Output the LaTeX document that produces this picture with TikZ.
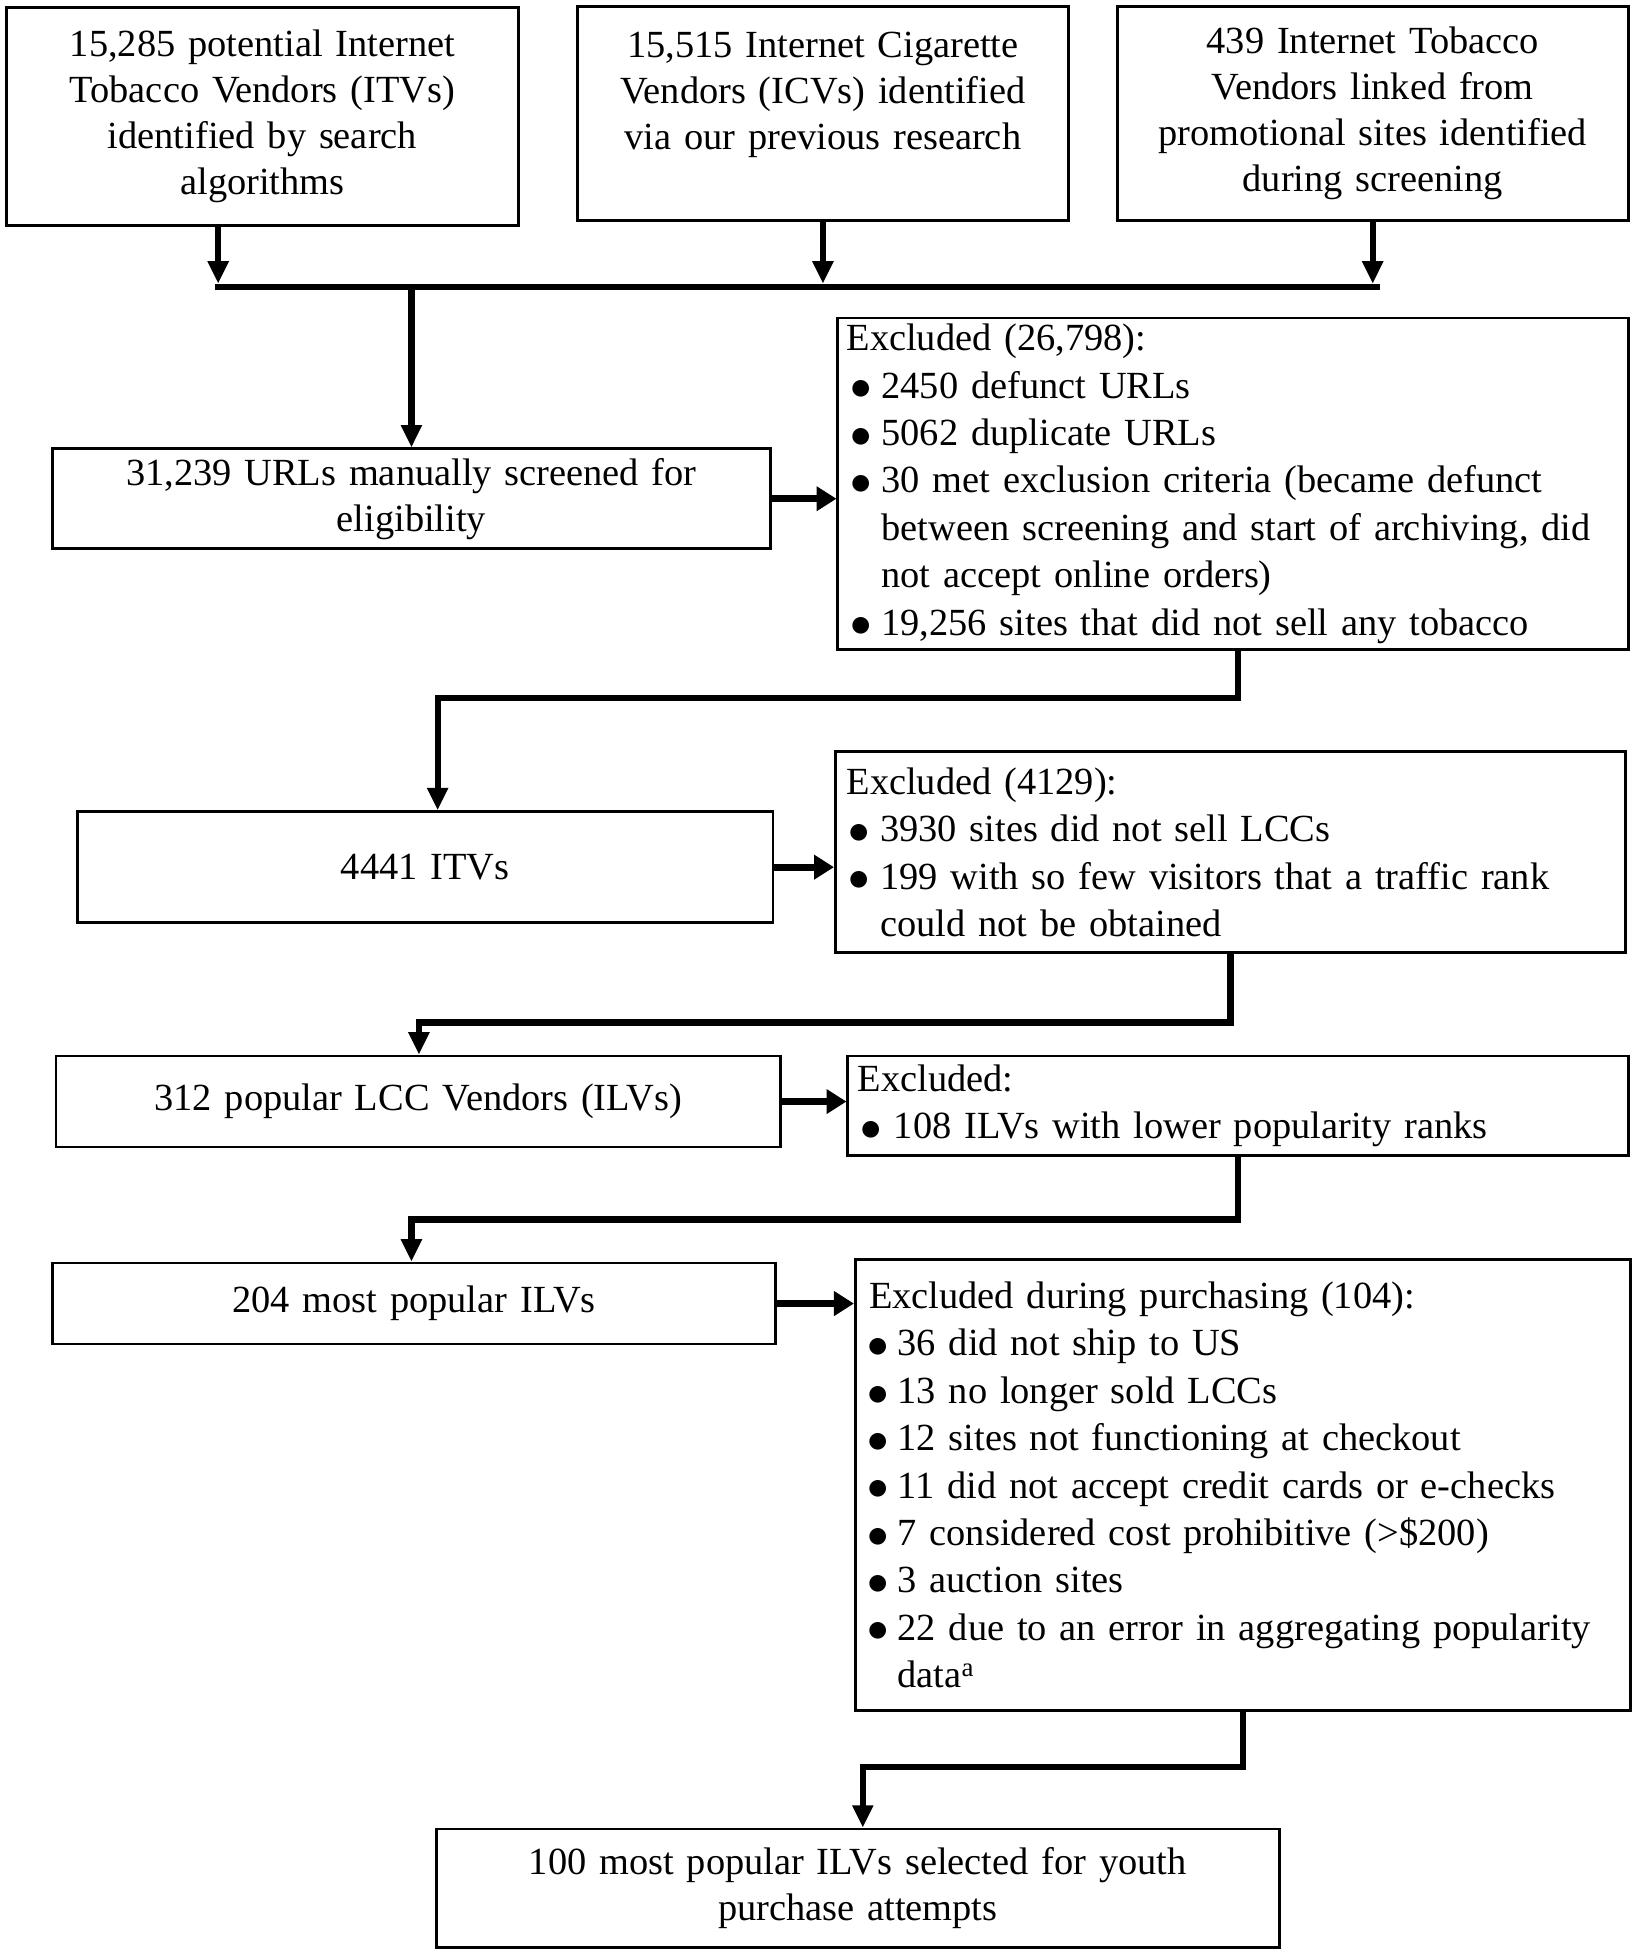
\documentclass[tikz,border=0pt]{standalone}
\usepackage{fontspec}
\setmainfont{Liberation Serif}
\usetikzlibrary{arrows.meta}
\newcommand\bigbul{\hspace*{-1pt}\raisebox{-1.4pt}{\scalebox{1.38}{$\bullet$}}}
\newcommand\bitem[2]{\hspace*{#1}\makebox[#2][l]{\bigbul}}
\newcommand\bcont[2]{\hspace*{#1}\hspace*{#2}}
\begin{document}
\begin{tikzpicture}[x=1pt,y=1pt,
  box/.style={draw, line width=2.2pt, inner xsep=8pt, inner ysep=0pt, align=center, font=\fontsize{30.8}{36.8}\selectfont},
  exbox/.style={draw, line width=2.2pt, inner ysep=0pt, align=left, font=\fontsize{30.8}{38}\selectfont},
  arr/.style={line width=5pt, -{Triangle[length=18pt,width=16pt]}},
  sarr/.style={line width=5.5pt, -{Triangle[length=16pt,width=19pt]}},
  bus/.style={line width=5pt}]
\fill[white] (0,0) rectangle (1310,-1564);
\useasboundingbox (0,0) rectangle (1310,-1564);

\node[box, text width=395pt, minimum height=175pt] (b1) at (210.5,-93.5) {15,285 potential Internet\\Tobacco Vendors (ITVs)\\identified by search\\algorithms};
\node[box, text width=378pt, minimum height=172pt] (b2) at (660,-91) {15,515 Internet Cigarette\\Vendors (ICVs) identified\\via our previous research\\\mbox{}};
\node[box, text width=394pt, minimum height=172pt] (b3) at (1101,-91) {439 Internet Tobacco\\Vendors linked from\\promotional sites identified\\during screening};

\node[box, text width=560pt, minimum height=80pt] (b4) at (330,-400) {31,239 URLs manually screened for\\eligibility};
\node[exbox, inner xsep=7pt, text width=620pt, minimum height=266pt] (e1) at (989,-388) {Excluded (26,798):\\
\bitem{4pt}{24pt}2450 defunct URLs\\
\bitem{4pt}{24pt}5062 duplicate URLs\\
\bitem{4pt}{24pt}30 met exclusion criteria (became defunct\\
\bcont{4pt}{24pt}between screening and start of archiving, did\\
\bcont{4pt}{24pt}not accept online orders)\\
\bitem{4pt}{24pt}19,256 sites that did not sell any tobacco};

\node[box, text width=542pt, minimum height=89pt] (b6) at (341,-695.5) {4441 ITVs};
\node[exbox, inner xsep=9pt, text width=616pt, minimum height=161pt] (e2) at (987,-683.5) {Excluded (4129):\\
\bitem{2.6pt}{24.4pt}3930 sites did not sell LCCs\\
\bitem{2.6pt}{24.4pt}199 with so few visitors that a traffic rank\\
\bcont{2.6pt}{24.4pt}could not be obtained};

\node[box, text width=565pt, minimum height=73pt] (b8) at (335.5,-883.5) {312 popular LCC Vendors (ILVs)};
\node[exbox, inner xsep=8pt, text width=610pt, minimum height=80pt] (e3) at (993,-887) {Excluded:\\
\bitem{3pt}{26pt}108 ILVs with lower popularity ranks};

\node[box, text width=564pt, minimum height=65pt] (b10) at (332,-1045.5) {204 most popular ILVs};
\node[exbox, inner xsep=11pt, text width=600pt, minimum height=362pt] (e4) at (997,-1191) {Excluded during purchasing (104):\\
\bitem{0pt}{23pt}36 did not ship to US\\
\bitem{0pt}{23pt}13 no longer sold LCCs\\
\bitem{0pt}{23pt}12 sites not functioning at checkout\\
\bitem{0pt}{23pt}11 did not accept credit cards or e-checks\\
\bitem{0pt}{23pt}7 considered cost prohibitive (>\$200)\\
\bitem{0pt}{23pt}3 auction sites\\
\bitem{0pt}{23pt}22 due to an error in aggregating popularity\\
\bcont{0pt}{23pt}data\textsuperscript{a}};

\node[box, text width=660pt, minimum height=95pt] (b12) at (688,-1514.5) {100 most popular ILVs selected for youth\\purchase attempts};

% top bus
\coordinate (bus1) at (172.5,-230);
\coordinate (bus2) at (1106.5,-230);
\coordinate (busT) at (0,-227.5);
\coordinate (a1) at (175,-230);
\draw[bus] (bus1) -- (bus2);
\draw[arr] (b1.south -| a1) -- (a1 |- busT);
\draw[arr] (b2.south) -- (b2.south |- busT);
\draw[arr] (b3.south) -- (b3.south |- busT);
\draw[arr] (b4.north |- bus1) -- (b4.north);

% flow
\draw[sarr] (b4.east) -- (b4.east -| e1.west);
\coordinate (k1) at (993,-560);
\coordinate (k1b) at (351,-560);
\draw[arr] (e1.south -| k1) -- (k1) -- (k1b) -- (b6.north -| k1b);

\draw[sarr] (b6.east) -- (b6.east -| e2.west);
\coordinate (k2b) at (336,-820);
\draw[arr] (e2.south) |- (k2b) -- (b8.north -| k2b);

\draw[sarr] (b8.east) -- (b8.east -| e3.west);
\coordinate (k3b) at (330,-978);
\draw[arr] (e3.south) |- (k3b) -- (b10.north -| k3b);

\draw[sarr] (b10.east) -- (b10.east -| e4.west);
\coordinate (k4b) at (692,-1417);
\draw[arr] (e4.south) |- (k4b) -- (b12.north -| k4b);
\end{tikzpicture}
\end{document}
